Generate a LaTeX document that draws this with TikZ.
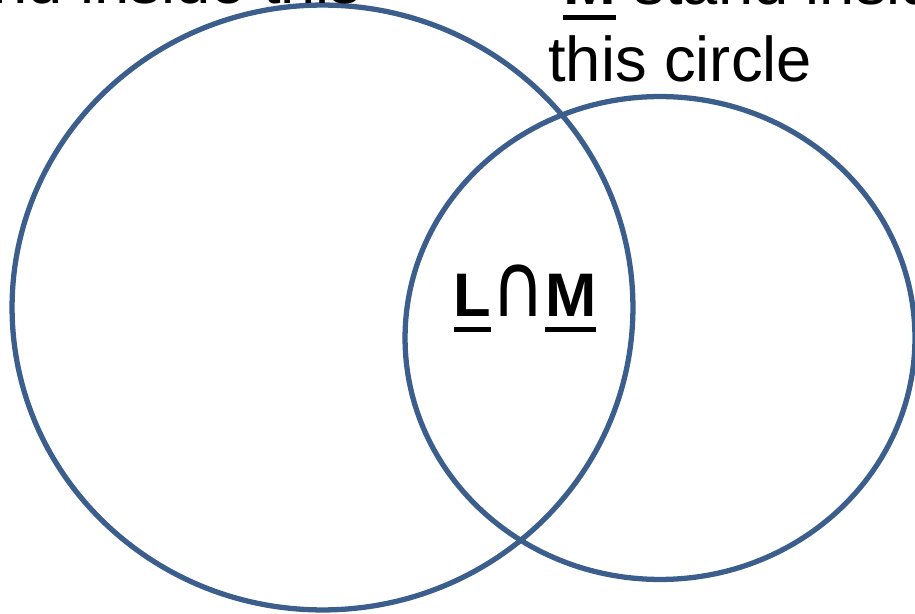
\documentclass[tikz,border=0pt]{standalone}
\usepackage{fontspec}
\setmainfont{Liberation Sans}
\newfontfamily\symfont{DejaVu Sans}
\usepackage{graphicx}
\usepackage{xcolor}
\definecolor{vennblue}{RGB}{59,94,141}
\usetikzlibrary{positioning}
% bold letter with a thick rule under it
\newcommand\ulbf[1]{\setbox0\hbox{\bfseries #1}\rlap{\rule[-0.3cm]{\wd0}{0.1cm}}\box0\relax}
\tikzset{
  set/.style={draw=vennblue, line width=3pt},
  txt/.style={font=\fontsize{36}{43}\selectfont, inner sep=0pt},
  midlbl/.style={font=\fontsize{35}{40}\selectfont, inner sep=0pt}
}

\begin{document}
\begin{tikzpicture}[x=0.02cm, y=-0.02cm]
\useasboundingbox (0,0) rectangle (915,614);
\clip (0,0) rectangle (915,614);
% the two sets
\draw[set] (322.5,307.5) ellipse [x radius=6.21cm, y radius=6.05cm];
\draw[set] (660,338) ellipse [x radius=5.1cm, y radius=4.83cm];
% labels
\node[txt, anchor=base east] (lbl-l) at (362,4) {stand inside this};
\node[txt, anchor=base west] (lbl-m) at (563,5) {\ulbf{M} stand inside};
\node[txt, anchor=base west] (lbl-m2) at (548,82) {this circle};
\node[midlbl, anchor=base] (inter) at (525,317)
  {\ulbf{L}\scalebox{1.2}[1.45]{\symfont ∩}\ulbf{M}};
\end{tikzpicture}
\end{document}
